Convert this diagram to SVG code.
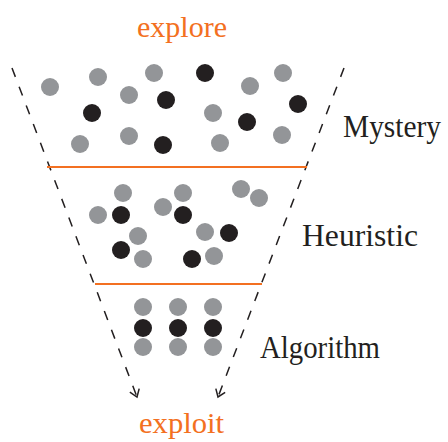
<svg xmlns="http://www.w3.org/2000/svg" width="448" height="442" viewBox="0 0 448 442">
<style>
.g{fill:#939598}
.b{fill:#231f20}
.lbl{font-family:"Liberation Serif","Times New Roman",serif;font-size:31px;fill:#231f20}
.or{font-family:"Liberation Serif","Times New Roman",serif;font-size:30px;fill:#f37021}
.dash{stroke:#231f20;stroke-width:1.5;stroke-dasharray:9.5 10.5;fill:none}
.sep{stroke:#f37021;stroke-width:2;fill:none}
</style>
<defs>
<marker id="ah" markerUnits="userSpaceOnUse" markerWidth="16" markerHeight="16" viewBox="-10 -8 12 16" refX="0" refY="0" orient="auto">
<path d="M-7,-5 L0,0 L-7,5" fill="none" stroke="#231f20" stroke-width="1.5"/>
</marker>
</defs>
<text id="explore" class="or" x="137" y="37" textLength="90" lengthAdjust="spacingAndGlyphs">explore</text>
<text id="exploit" class="or" x="139" y="433" textLength="85" lengthAdjust="spacingAndGlyphs">exploit</text>
<g id="connectors">
<path class="dash" d="M12,68 L137,397" marker-end="url(#ah)"/>
<path class="dash" d="M344,68 L218,397" marker-end="url(#ah)"/>
<path class="sep" d="M47,167 H307"/>
<path class="sep" d="M95,284 H262"/>
</g>
<g id="mystery">
<circle class="g" cx="50" cy="87" r="9"/>
<circle class="g" cx="98" cy="77" r="9"/>
<circle class="g" cx="154" cy="73" r="9"/>
<circle class="b" cx="205" cy="73" r="9"/>
<circle class="g" cx="283" cy="73" r="9"/>
<circle class="g" cx="250" cy="86" r="9"/>
<circle class="g" cx="129" cy="95" r="9"/>
<circle class="b" cx="166" cy="100" r="9"/>
<circle class="b" cx="92" cy="113" r="9"/>
<circle class="g" cx="213" cy="113" r="9"/>
<circle class="b" cx="298" cy="104" r="9"/>
<circle class="b" cx="247" cy="122" r="9"/>
<circle class="g" cx="80" cy="144" r="9"/>
<circle class="g" cx="129" cy="136" r="9"/>
<circle class="b" cx="163" cy="145" r="9"/>
<circle class="g" cx="220" cy="143" r="9"/>
<circle class="g" cx="282" cy="135" r="9"/>
<text class="lbl" x="343" y="137" textLength="98" lengthAdjust="spacingAndGlyphs">Mystery</text>
</g>
<g id="heuristic">
<circle class="g" cx="123" cy="193" r="9"/>
<circle class="g" cx="98" cy="215" r="9"/>
<circle class="b" cx="121" cy="215" r="9"/>
<circle class="g" cx="183" cy="193" r="9"/>
<circle class="g" cx="163" cy="207" r="9"/>
<circle class="b" cx="183" cy="215" r="9"/>
<circle class="g" cx="241" cy="189" r="9"/>
<circle class="g" cx="259" cy="198" r="9"/>
<circle class="g" cx="138" cy="236" r="9"/>
<circle class="b" cx="121" cy="250" r="9"/>
<circle class="g" cx="143" cy="259" r="9"/>
<circle class="g" cx="205" cy="232" r="9"/>
<circle class="b" cx="229" cy="233" r="9"/>
<circle class="b" cx="192" cy="259" r="9"/>
<circle class="g" cx="214" cy="256" r="9"/>
<text class="lbl" x="302" y="246" textLength="116" lengthAdjust="spacingAndGlyphs">Heuristic</text>
</g>
<g id="algorithm">
<circle class="g" cx="143" cy="307" r="9"/>
<circle class="g" cx="178" cy="307" r="9"/>
<circle class="g" cx="213" cy="307" r="9"/>
<circle class="b" cx="143" cy="328" r="9"/>
<circle class="b" cx="178" cy="328" r="9"/>
<circle class="b" cx="213" cy="328" r="9"/>
<circle class="g" cx="143" cy="347" r="9"/>
<circle class="g" cx="178" cy="347" r="9"/>
<circle class="g" cx="213" cy="347" r="9"/>
<text class="lbl" x="260" y="358" textLength="120" lengthAdjust="spacingAndGlyphs">Algorithm</text>
</g>
</svg>
